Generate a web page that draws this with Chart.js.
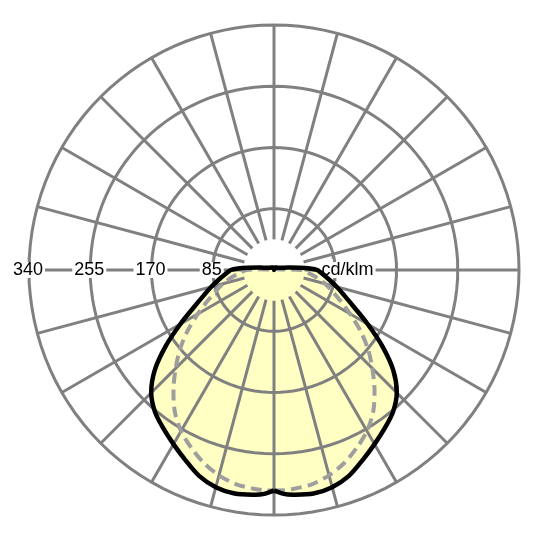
<!DOCTYPE html>
<html>
<head>
<meta charset="utf-8">
<script src="https://cdn.jsdelivr.net/npm/chart.js@4.4.1/dist/chart.umd.min.js"></script>
<style>
  html, body { margin: 0; padding: 0; background: #fff; }
  canvas { display: block; }
</style>
</head>
<body>
<canvas id="polar" width="540" height="540"></canvas>
<script>
// gamma angle from nadir (deg) and luminous intensity (cd/klm)
const angles  = [0, 2.5, 5, 10, 15, 20, 25, 30, 35, 40, 45, 50, 55, 60, 65, 70, 75, 80, 85, 90, 92.5, 95, 100, 105, 110, 120, 135, 150, 165, 175, 180];
const c0c180  = [306, 311, 313, 315, 312, 304, 291, 279, 268, 257, 241, 216, 183, 150, 123, 104, 90, 78, 68, 60, 50, 36, 19, 12, 9, 6, 5, 4, 3.5, 2.5, 0];
const c90c270 = [306, 306, 305, 302, 295, 285, 272, 258, 240, 217, 193, 170, 146, 122, 102, 86, 73, 60, 48, 38, 20, 9, 5, 4, 3.5, 3, 3, 3, 3, 3, 3];

const ringValues = [85, 170, 255, 340];
const ringLabels = ['85', '170', '255', '340'];
const unitLabel = 'cd/klm';
const spokeStart = 42.5;
const maxValue = 340;

function toXY(deg, r, side) {
  const a = deg * Math.PI / 180;
  return { x: side * r * Math.sin(a), y: -r * Math.cos(a) };
}

// right half goes 0..180, left half comes back 180..0
function closedCurve(values) {
  const right = angles.map((a, i) => toXY(a, values[i], 1));
  const left = angles.map((a, i) => toXY(a, values[i], -1)).reverse();
  return right.concat(left.slice(1));
}

function ring(r) {
  const pts = [];
  for (let a = 0; a <= 360; a += 3) pts.push(toXY(a, r, 1));
  return pts;
}

const gridColor = '#808080';
const lineBase = { showLine: true, pointRadius: 0, fill: false, clip: false };

const ringSets = ringValues.map(v => ({
  ...lineBase, data: ring(v), borderColor: gridColor, borderWidth: 3
}));

const spokeSets = [];
for (let a = 0; a < 360; a += 15) {
  spokeSets.push({
    ...lineBase,
    data: [toXY(a, spokeStart, 1), toXY(a, maxValue, 1)],
    borderColor: gridColor, borderWidth: 3
  });
}

const curveA = closedCurve(c0c180);
const curveB = closedCurve(c90c270);

const axisLabels = {
  id: 'axisLabels',
  beforeDatasetDraw(chart, args) {
    if (args.index !== 1) return;
    const { ctx, scales: { x, y } } = chart;
    const y0 = y.getPixelForValue(0);
    ctx.save();
    ctx.font = '18px "Liberation Sans", Arial, sans-serif';
    ctx.textBaseline = 'middle';
    ctx.textAlign = 'center';
    ringValues.forEach((v, i) => {
      const px = x.getPixelForValue(-v) - 1;
      const w = ctx.measureText(ringLabels[i]).width + 4;
      ctx.fillStyle = '#fff';
      ctx.fillRect(px - w / 2, y0 - 8, w, 16);
      ctx.fillStyle = '#000';
      ctx.fillText(ringLabels[i], px, y0 + 0.5);
    });
    ctx.textAlign = 'left';
    const ux = x.getPixelForValue(66);
    const uw = ctx.measureText(unitLabel).width + 4;
    ctx.fillStyle = '#fff';
    ctx.fillRect(ux - 2, y0 - 8, uw, 16);
    ctx.fillStyle = '#000';
    ctx.fillText(unitLabel, ux, y0 + 0.5);
    ctx.restore();
  }
};

new Chart(document.getElementById('polar'), {
  type: 'scatter',
  data: {
    datasets: [
      { ...lineBase, data: curveA, borderColor: '#000', borderWidth: 4.5, tension: 0.3, borderJoinStyle: 'round' },
      { ...lineBase, data: curveB, borderColor: '#9e9e9e', borderWidth: 4, borderDash: [11, 6], tension: 0.3 },
      ...ringSets,
      ...spokeSets,
      { ...lineBase, data: curveA, borderWidth: 0, backgroundColor: '#ffffc4', fill: 'shape', tension: 0.3 }
    ]
  },
  options: {
    responsive: false,
    animation: false,
    layout: { padding: { left: 29, right: 21, top: 25, bottom: 25 } },
    scales: {
      x: { type: 'linear', min: -maxValue, max: maxValue, display: false },
      y: { type: 'linear', min: -maxValue, max: maxValue, display: false }
    },
    plugins: { legend: { display: false }, tooltip: { enabled: false } }
  },
  plugins: [axisLabels]
});
</script>
</body>
</html>
